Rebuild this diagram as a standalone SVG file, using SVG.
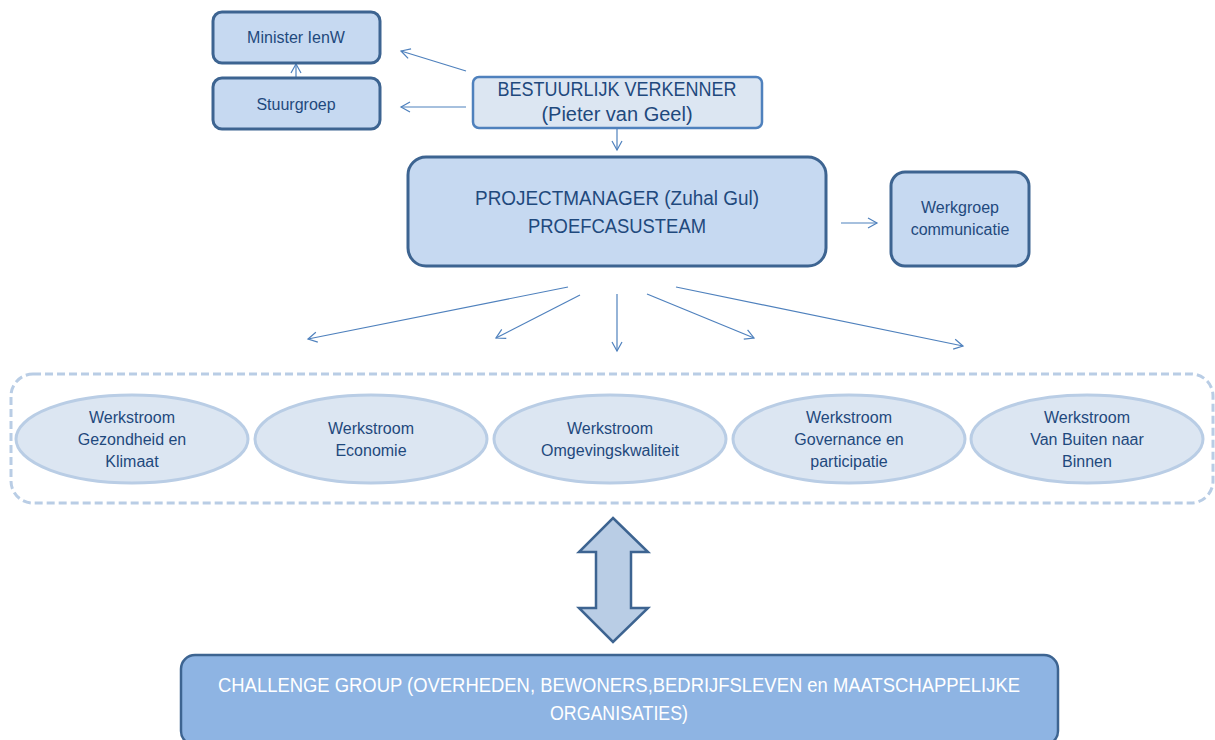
<svg xmlns="http://www.w3.org/2000/svg" width="1215" height="740" viewBox="0 0 1215 740">
  <style>
    .box { fill: #c6d9f1; stroke: #3d6491; stroke-width: 3; }
    .lbox { fill: #dce6f2; stroke: #4f81bd; stroke-width: 2.5; }
    .ell { fill: #dce6f2; stroke: #b9cde5; stroke-width: 3; }
    .t { font-family: "Liberation Sans", Arial, sans-serif; fill: #1f497d; text-anchor: middle; }
    .tw { font-family: "Liberation Sans", Arial, sans-serif; fill: #ffffff; text-anchor: middle; }
    .conn { stroke: #4f81bd; stroke-width: 1.2; fill: none; marker-end: url(#arr); }
  </style>
  <defs>
    <marker id="arr" markerUnits="userSpaceOnUse" markerWidth="12" markerHeight="12" viewBox="-1 -6 12 12" refX="9" refY="0" orient="auto">
      <path d="M0,-5 L9,0 L0,5" fill="none" stroke="#4f81bd" stroke-width="1.2"/>
    </marker>
  </defs>
  <rect width="1215" height="740" fill="#ffffff"/>

  <g id="connectors">
    <line class="conn" x1="296" y1="77" x2="296" y2="64"/>
    <line class="conn" x1="466" y1="71" x2="401" y2="51"/>
    <line class="conn" x1="466" y1="107" x2="401" y2="107"/>
    <line class="conn" x1="617" y1="129" x2="617" y2="150"/>
    <line class="conn" x1="841" y1="223" x2="877" y2="223"/>
    <line class="conn" x1="568" y1="287" x2="308" y2="339"/>
    <line class="conn" x1="580" y1="295" x2="496" y2="338"/>
    <line class="conn" x1="617" y1="294" x2="617" y2="351"/>
    <line class="conn" x1="647" y1="294" x2="754" y2="338"/>
    <line class="conn" x1="676" y1="287" x2="963" y2="346"/>
  </g>

  <g id="minister">
    <rect class="box" x="213" y="12" width="167" height="51" rx="9"/>
    <text class="t" x="296" y="43" font-size="16">Minister IenW</text>
  </g>
  <g id="stuurgroep">
    <rect class="box" x="213" y="78" width="167" height="51" rx="9"/>
    <text class="t" x="296" y="110" font-size="16">Stuurgroep</text>
  </g>
  <g id="verkenner">
    <rect class="lbox" x="473" y="77" width="289" height="51" rx="6"/>
    <text class="t" x="617" y="96" font-size="20" textLength="239" lengthAdjust="spacingAndGlyphs">BESTUURLIJK VERKENNER</text>
    <text class="t" x="617" y="121" font-size="20">(Pieter van Geel)</text>
  </g>
  <g id="projectmanager">
    <rect class="box" x="408" y="157" width="418" height="109" rx="18"/>
    <text class="t" x="617" y="205" font-size="20" textLength="284" lengthAdjust="spacingAndGlyphs">PROJECTMANAGER (Zuhal Gul)</text>
    <text class="t" x="617" y="233" font-size="20" textLength="178" lengthAdjust="spacingAndGlyphs">PROEFCASUSTEAM</text>
  </g>
  <g id="werkgroep">
    <rect class="box" x="891" y="172" width="138" height="94" rx="14"/>
    <text class="t" x="960" y="213" font-size="16">Werkgroep</text>
    <text class="t" x="960" y="235" font-size="16">communicatie</text>
  </g>

  <g id="werkstromen">
    <rect x="11" y="374" width="1202" height="129" rx="22" fill="none" stroke="#b9cde5" stroke-width="3" stroke-dasharray="8 4"/>
    <g id="ws1">
      <ellipse class="ell" cx="132" cy="439" rx="116" ry="44"/>
      <text class="t" x="132" y="423" font-size="16">Werkstroom</text>
      <text class="t" x="132" y="445" font-size="16">Gezondheid en</text>
      <text class="t" x="132" y="467" font-size="16">Klimaat</text>
    </g>
    <g id="ws2">
      <ellipse class="ell" cx="371" cy="439" rx="116" ry="44"/>
      <text class="t" x="371" y="434" font-size="16">Werkstroom</text>
      <text class="t" x="371" y="456" font-size="16">Economie</text>
    </g>
    <g id="ws3">
      <ellipse class="ell" cx="610" cy="439" rx="116" ry="44"/>
      <text class="t" x="610" y="434" font-size="16">Werkstroom</text>
      <text class="t" x="610" y="456" font-size="16">Omgevingskwaliteit</text>
    </g>
    <g id="ws4">
      <ellipse class="ell" cx="849" cy="439" rx="116" ry="44"/>
      <text class="t" x="849" y="423" font-size="16">Werkstroom</text>
      <text class="t" x="849" y="445" font-size="16">Governance en</text>
      <text class="t" x="849" y="467" font-size="16">participatie</text>
    </g>
    <g id="ws5">
      <ellipse class="ell" cx="1087" cy="439" rx="116" ry="44"/>
      <text class="t" x="1087" y="423" font-size="16">Werkstroom</text>
      <text class="t" x="1087" y="445" font-size="16">Van Buiten naar</text>
      <text class="t" x="1087" y="467" font-size="16">Binnen</text>
    </g>
  </g>

  <g id="double-arrow">
    <polygon points="613,518 648,552 631,552 631,608 648,608 613,642 579,608 596,608 596,552 579,552" fill="#b9cde5" stroke="#3d6491" stroke-width="2.5" stroke-linejoin="miter"/>
  </g>

  <g id="challenge">
    <rect x="181" y="655" width="877" height="90" rx="14" fill="#8eb4e3" stroke="#3d6491" stroke-width="2.5"/>
    <text class="tw" x="619" y="692" font-size="20" textLength="802" lengthAdjust="spacingAndGlyphs">CHALLENGE GROUP (OVERHEDEN, BEWONERS,BEDRIJFSLEVEN en MAATSCHAPPELIJKE</text>
    <text class="tw" x="619" y="720" font-size="20" textLength="138" lengthAdjust="spacingAndGlyphs">ORGANISATIES)</text>
  </g>
</svg>
